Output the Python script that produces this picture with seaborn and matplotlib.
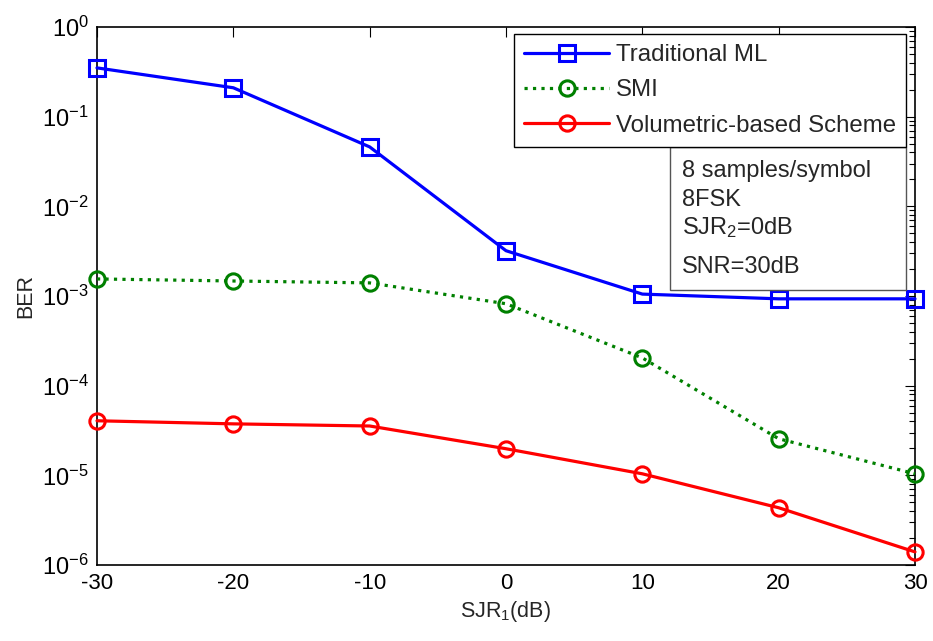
import matplotlib
matplotlib.use("Agg")
import matplotlib.pyplot as plt
import seaborn as sns
import pandas as pd
from matplotlib.patches import Rectangle
from matplotlib.ticker import LogLocator, NullFormatter, FixedLocator

sjr1 = [-30, -20, -10, 0, 10, 20, 30]
ber_ml = [0.35, 0.21, 0.046, 3.2e-3, 1.05e-3, 9.3e-4, 9.3e-4]
ber_smi = [1.55e-3, 1.47e-3, 1.4e-3, 8.2e-4, 2.04e-4, 2.56e-5, 1.04e-5]
ber_vol = [4.06e-5, 3.75e-5, 3.55e-5, 1.98e-5, 1.04e-5, 4.35e-6, 1.4e-6]
series_names = ["Traditional ML", "SMI", "Volumetric-based Scheme"]
info_lines = ["8 samples/symbol", "8FSK", "SJR$_2$=0dB", "SNR=30dB"]
x_ticks = [-30, -20, -10, 0, 10, 20, 30]
y_exps = [-6, -5, -4, -3, -2, -1, 0]

sns.set_theme(style="white")
plt.rcParams["font.family"] = ["Liberation Sans", "DejaVu Sans"]
plt.rcParams["mathtext.fontset"] = "custom"
plt.rcParams["mathtext.rm"] = "Liberation Sans"
plt.rcParams["mathtext.it"] = "Liberation Sans"
plt.rcParams["mathtext.bf"] = "Liberation Sans"

fig = plt.figure(figsize=(9.33, 6.41), dpi=100)
ax = fig.add_axes([97/933, 1-565/641, (915-97)/933, (565-27)/641])

df = pd.DataFrame({
    "x": sjr1 * 3,
    "y": ber_ml + ber_smi + ber_vol,
    "s": [series_names[0]]*7 + [series_names[1]]*7 + [series_names[2]]*7,
})

styles = [
    dict(color="#0000ff", marker="s", ls="-", ms=12),
    dict(color="#008000", marker="o", ls=":", ms=11),
    dict(color="#ff0000", marker="o", ls="-", ms=11),
]
for name, st in zip(series_names, styles):
    sub = df[df["s"] == name]
    sns.lineplot(data=sub, x="x", y="y", ax=ax, color=st["color"], linestyle=st["ls"],
                 linewidth=2.3, marker=st["marker"], markersize=st["ms"],
                 markerfacecolor="none", markeredgecolor=st["color"], markeredgewidth=2.2,
                 label=name, clip_on=False, zorder=3)

ax.set_yscale("log")
ax.set_xlim(-30, 30)
ax.set_ylim(1e-6, 1)
ax.xaxis.set_major_locator(FixedLocator(x_ticks))
ax.set_xticklabels([str(v) for v in x_ticks], fontsize=16)
ax.yaxis.set_major_locator(FixedLocator([10.0**e for e in y_exps]))
ax.set_yticklabels([f"$10^{{{e}}}$" for e in y_exps], fontsize=17)
ax.yaxis.set_minor_locator(LogLocator(base=10, subs=range(2, 10), numticks=20))
ax.yaxis.set_minor_formatter(NullFormatter())
ax.tick_params(which="both", direction="in", top=True, right=True, colors="black")
ax.tick_params(which="major", length=7, width=0.8, pad=6)
ax.tick_params(which="minor", length=4, width=0.8)
for sp in ax.spines.values():
    sp.set_color("black")
    sp.set_linewidth(1.2)
ax.grid(False)
ax.set_xlabel("SJR$_1$(dB)", fontsize=15.5, labelpad=3)
ax.set_ylabel("BER", fontsize=15.5, labelpad=4)

leg = ax.legend(loc="upper right", bbox_to_anchor=(0.989, 0.987), borderaxespad=0,
                fontsize=17.3, fancybox=False, framealpha=1, edgecolor="black",
                handlelength=3.5, handletextpad=0.3, borderpad=0.42, labelspacing=0.55)
leg.get_frame().set_linewidth(1.0)

x0 = (670-97)/818
yt = (565-147)/538
yb = (565-290)/538
ax.add_patch(Rectangle((x0, yb), 0.989 - x0, yt - yb, transform=ax.transAxes,
                       facecolor="white", edgecolor="#555555", linewidth=1.0, zorder=4))
ys_px = [171, 200, 228, 267]
for line, ypx in zip(info_lines, ys_px):
    ax.text((682-97)/818, (565-ypx)/538, line, transform=ax.transAxes, fontsize=17,
            va="center", ha="left", zorder=5)

fig.savefig("out.png", dpi=100)
